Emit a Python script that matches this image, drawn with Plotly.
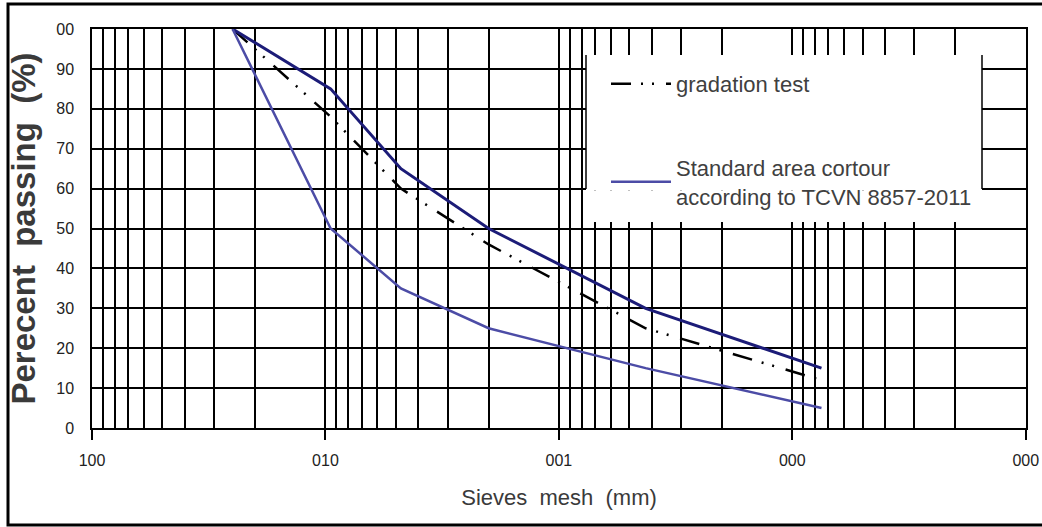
import plotly.graph_objects as go

# ---- data ----
sieve_mm = [25, 9.5, 4.75, 2.0, 0.425, 0.075]
gradation_test = [100, 78, 60, 46, 25, 12]
upper_limit = [100, 85, 65, 50, 30, 15]
lower_limit = [100, 50, 35, 25, 15, 5]

x_tick_vals = [100, 10, 1, 0.1, 0.01]
x_tick_text = ["100", "010", "001", "000", "000"]
y_tick_vals = [0, 10, 20, 30, 40, 50, 60, 70, 80, 90, 100]
y_tick_text = ["0", "10", "20", "30", "40", "50", "60", "70", "80", "90", "00"]
minor_vals = [k * 10.0 ** n for n in (-2, -1, 0, 1) for k in range(2, 10)]

SANS = "Liberation Sans, Arial, sans-serif"

W, H = 1042, 527
L, R, T, B = 92, 16, 29, 99
PW, PH = W - L - R, H - T - B


def px(x):
    return (x - L) / PW


def py(y):
    return (H - B - y) / PH


fig = go.Figure()

fig.add_trace(go.Scatter(
    x=sieve_mm, y=gradation_test, mode="lines", name="gradation test",
    legendgroup="g1",
    line=dict(color="black", width=2.5, dash="20px,10px,2px,9px,2px,12px"),
))
fig.add_trace(go.Scatter(
    x=sieve_mm, y=upper_limit, mode="lines", name="upper",
    legendgroup="g2", showlegend=False,
    line=dict(color="#1c1c78", width=3),
))
fig.add_trace(go.Scatter(
    x=sieve_mm, y=lower_limit, mode="lines",
    name="Standard area cortour<br>according to TCVN 8857-2011",
    legendgroup="g2",
    line=dict(color="#4c4ca6", width=2.5),
))

shapes = [
    # white legend panel covering the grid
    dict(type="rect", xref="paper", yref="paper", x0=px(586), x1=px(982),
         y0=py(190.5), y1=py(55), fillcolor="white", line=dict(width=0), layer="above"),
    dict(type="rect", xref="paper", yref="paper", x0=px(586), x1=px(1024.5),
         y0=py(222), y1=py(190.5), fillcolor="white", line=dict(width=0), layer="above"),
    dict(type="line", xref="paper", yref="paper", x0=px(586), x1=px(586),
         y0=py(189), y1=py(55), line=dict(color="black", width=1.5), layer="above"),
    dict(type="line", xref="paper", yref="paper", x0=px(982), x1=px(982),
         y0=py(189), y1=py(55), line=dict(color="black", width=1.5), layer="above"),
    # outer frame of the picture
    dict(type="rect", xref="paper", yref="paper", x0=px(8), x1=px(1050),
         y0=py(525), y1=py(4), line=dict(color="black", width=3), fillcolor="rgba(0,0,0,0)"),
]

fig.update_layout(
    width=W, height=H,
    margin=dict(l=L, r=R, t=T, b=B, pad=0, autoexpand=False),
    paper_bgcolor="white", plot_bgcolor="white",
    showlegend=True,
    legend=dict(
        x=px(606), y=py(63), xanchor="left", yanchor="top",
        bgcolor="rgba(0,0,0,0)", borderwidth=0,
        font=dict(family=SANS, size=22, color="#404040"),
        traceorder="grouped", tracegroupgap=52, itemwidth=60,
    ),
    shapes=shapes,
    xaxis=dict(
        type="log", range=[2.0, -2.001], automargin=False,
        tickmode="array", tickvals=x_tick_vals, ticktext=x_tick_text,
        ticks="outside", ticklen=10, tickwidth=1.5, tickcolor="black",
        tickfont=dict(family=SANS, size=16, color="#222222"),
        ticklabelstandoff=7,
        showgrid=True, gridcolor="black", gridwidth=1.5,
        minor=dict(tickmode="array", tickvals=minor_vals, showgrid=True,
                   gridcolor="black", gridwidth=1.5, ticks=""),
        showline=True, linecolor="black", linewidth=1.5, mirror=True,
        zeroline=False,
        title=dict(text="Sieves\u00a0 mesh\u00a0 (mm)",
                   font=dict(family=SANS, size=22, color="#3a3a3a"), standoff=22),
    ),
    yaxis=dict(
        range=[0, 100], automargin=False,
        tickmode="array", tickvals=y_tick_vals, ticktext=y_tick_text,
        ticks="", tickfont=dict(family=SANS, size=16, color="#222222"),
        ticklabelstandoff=13,
        showgrid=True, gridcolor="black", gridwidth=1.5,
        showline=True, linecolor="black", linewidth=1.5, mirror=True,
        zeroline=False,
        title=dict(text="Perecent\u00a0 passing\u00a0 (%)\u00a0\u00a0",
                   font=dict(family=SANS, size=33, color="#3a3a3a", weight="bold"),
                   standoff=11),
    ),
)

fig.write_html("out.html")
